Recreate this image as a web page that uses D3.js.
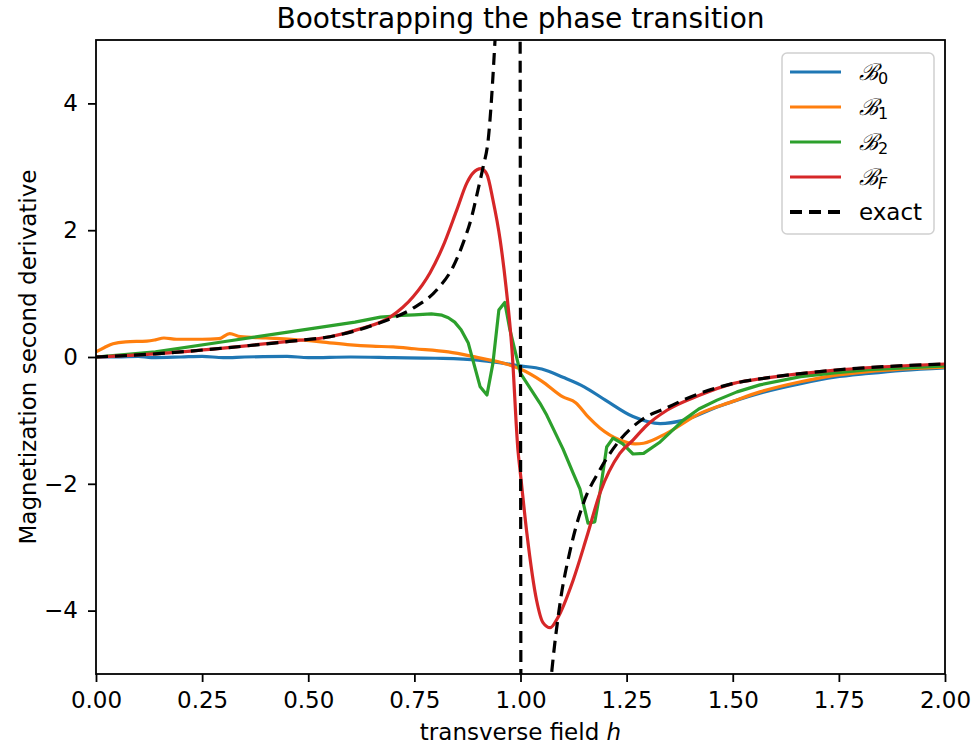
<!DOCTYPE html>
<html>
<head>
<meta charset="utf-8">
<script src="https://cdn.jsdelivr.net/npm/d3@7"></script>
<style>
  body { margin: 0; background: #fff; }
  text { font-family: "DejaVu Sans", sans-serif; fill: #000; }
  .line { fill: none; stroke-width: 3.2; stroke-linejoin: round; }
</style>
</head>
<body>
<script>
// values, [h, value]
const b0 = [[0,0],[0.05,0.0],[0.1,0.01],[0.13,-0.01],[0.2,0.0],[0.25,0.01],[0.3,-0.01],[0.35,0.0],[0.45,0.01],
  [0.5,-0.01],[0.6,0.0],[0.7,-0.01],[0.8,-0.02],[0.9,-0.05],[0.95,-0.09],[1.0,-0.14],[1.05,-0.19],[1.1,-0.32],
  [1.15,-0.47],[1.2,-0.68],[1.265,-0.94],[1.329,-1.05],[1.383,-1.0],[1.463,-0.79],[1.564,-0.57],[1.66,-0.42],
  [1.74,-0.32],[1.82,-0.26],[1.9,-0.21],[2.0,-0.17]];
const b1 = [[0,0.08],[0.02,0.15],[0.04,0.21],[0.07,0.24],[0.12,0.25],[0.14,0.27],[0.16,0.3],[0.19,0.28],[0.25,0.28],
  [0.29,0.29],[0.315,0.37],[0.34,0.32],[0.4,0.3],[0.46,0.28],[0.53,0.24],[0.6,0.19],[0.65,0.17],[0.7,0.16],[0.75,0.13],
  [0.83,0.08],[0.9,-0.01],[0.95,-0.08],[1.0,-0.19],[1.05,-0.38],[1.1,-0.63],[1.13,-0.72],[1.16,-0.95],[1.187,-1.12],
  [1.234,-1.31],[1.27,-1.37],[1.29,-1.36],[1.345,-1.2],[1.423,-0.89],[1.5,-0.7],[1.564,-0.55],[1.66,-0.39],
  [1.74,-0.29],[1.82,-0.23],[2.0,-0.16]];
const b2 = [[0,0],[0.14,0.08],[0.3,0.24],[0.46,0.4],[0.61,0.55],[0.67,0.63],[0.72,0.655],[0.75,0.665],[0.79,0.68],
  [0.815,0.66],[0.83,0.62],[0.845,0.55],[0.86,0.43],[0.877,0.22],[0.905,-0.47],[0.921,-0.6],[0.935,-0.1],[0.949,0.74],
  [0.963,0.86],[0.975,0.43],[1.0,-0.26],[1.046,-0.73],[1.062,-0.92],[1.1,-1.45],[1.124,-1.83],[1.14,-2.08],
  [1.159,-2.62],[1.175,-2.6],[1.187,-2.15],[1.203,-1.42],[1.218,-1.28],[1.241,-1.37],[1.265,-1.53],[1.29,-1.52],
  [1.329,-1.34],[1.383,-1.0],[1.42,-0.82],[1.463,-0.68],[1.51,-0.55],[1.564,-0.44],[1.66,-0.31],[1.74,-0.25],
  [1.82,-0.2],[2.0,-0.14]];
const bF = [[0,0],[0.14,0.05],[0.3,0.14],[0.46,0.25],[0.551,0.32],[0.62,0.44],[0.693,0.63],[0.747,0.95],[0.787,1.33],
  [0.817,1.74],[0.85,2.32],[0.874,2.75],[0.888,2.9],[0.907,2.97],[0.921,2.88],[0.935,2.48],[0.952,1.85],[0.966,1.1],
  [0.98,0.11],[0.994,-1.47],[1.0,-1.85],[1.015,-2.78],[1.038,-3.84],[1.053,-4.19],[1.07,-4.27],[1.088,-4.11],
  [1.124,-3.52],[1.156,-2.84],[1.187,-2.15],[1.234,-1.52],[1.265,-1.31],[1.297,-1.08],[1.345,-0.84],[1.423,-0.6],
  [1.5,-0.42],[1.58,-0.33],[1.736,-0.21],[2.0,-0.11]];
const exact = [[0,0],[0.14,0.05],[0.3,0.14],[0.46,0.25],[0.551,0.32],[0.669,0.54],[0.747,0.77],[0.803,1.06],
  [0.841,1.42],[0.865,1.8],[0.885,2.21],[0.9,2.64],[0.912,3.0],[0.924,3.43],[0.94,5.0],[0.96,8],[0.99,40],
  [1.01,-40],[1.04,-8],[1.074,-4.94],[1.093,-3.89],[1.117,-3.05],[1.148,-2.31],[1.187,-1.78],[1.234,-1.31],
  [1.29,-0.97],[1.345,-0.8],[1.383,-0.68],[1.5,-0.42],[1.58,-0.33],[1.736,-0.21],[2.0,-0.11]];

const xTicks = [0, 0.25, 0.5, 0.75, 1.0, 1.25, 1.5, 1.75, 2.0];
const yTicks = [-4, -2, 0, 2, 4];
const legendSubs = ["0", "1", "2", "F"];

const W = 974, H = 747;
const margin = {top: 40, right: 29, bottom: 73, left: 96};
const width = W - margin.left - margin.right, height = H - margin.top - margin.bottom;

const svg = d3.select("body").append("svg").attr("width", W).attr("height", H);
const g = svg.append("g").attr("transform", "translate(" + margin.left + "," + margin.top + ")");

const xScale = d3.scaleLinear().domain([0, 2]).range([0, width]);
const yScale = d3.scaleLinear().domain([-5, 5]).range([height, 0]);

g.append("defs").append("clipPath").attr("id", "clip")
  .append("rect").attr("width", width).attr("height", height);

const charts = g.append("g").attr("clip-path", "url(#clip)");

function lineFor(data, color, curve, dash) {
  const line = d3.line()
    .x(d => xScale(d[0]))
    .y(d => yScale(d[1]))
    .curve(curve);
  const p = charts.append("path").datum(data).attr("class", "line")
    .attr("stroke", color).attr("d", line);
  if (dash) p.attr("stroke-dasharray", dash).attr("stroke-width", 4);
}
const series = [
  {data: b0, color: "#1f77b4", curve: d3.curveMonotoneX},
  {data: b1, color: "#ff7f0e", curve: d3.curveMonotoneX},
  {data: b2, color: "#2ca02c", curve: d3.curveLinear},
  {data: bF, color: "#d62728", curve: d3.curveMonotoneX}
];
series.forEach(s => lineFor(s.data, s.color, s.curve));
lineFor(exact, "#000", d3.curveMonotoneX, "12,7");

// axes
const fmt = d => (d < 0 ? "\u2212" : "") + Math.abs(d);
const xAxis = d3.axisBottom(xScale).tickValues(xTicks).tickFormat(d3.format(".2f")).tickSizeOuter(0).tickSize(8).tickPadding(10);
const yAxis = d3.axisLeft(yScale).tickValues(yTicks).tickFormat(fmt).tickSizeOuter(0).tickSize(8).tickPadding(10);
const gX = g.append("g").attr("transform", "translate(0," + height + ")").call(xAxis);
const gY = g.append("g").call(yAxis);
[gX, gY].forEach(a => {
  a.select(".domain").remove();
  a.selectAll("line").attr("stroke", "#000").attr("stroke-width", 1.8);
  a.selectAll("text").style("font-family", "DejaVu Sans").style("font-size", "23px").attr("fill", "#000");
});
g.append("rect").attr("width", width).attr("height", height)
  .attr("fill", "none").attr("stroke", "#000").attr("stroke-width", 1.8);

// labels
svg.append("text").attr("x", margin.left + width / 2).attr("y", 28).attr("text-anchor", "middle")
  .style("font-size", "28px").text("Bootstrapping the phase transition");
const xl = svg.append("text").attr("x", margin.left + width / 2).attr("y", 740).attr("text-anchor", "middle")
  .style("font-size", "23px");
xl.append("tspan").text("transverse field ");
xl.append("tspan").style("font-style", "italic").text("h");
svg.append("text").attr("transform", "translate(36," + (margin.top + height / 2) + ") rotate(-90)")
  .attr("text-anchor", "middle").style("font-size", "23px").text("Magnetization second derivative");

// legend
const legende = g.append("g").attr("transform", "translate(" + (width - 163) + ",13)");
legende.append("rect").attr("width", 152).attr("height", 181).attr("rx", 5)
  .attr("fill", "#fff").attr("fill-opacity", 0.8).attr("stroke", "#d0d0d0").attr("stroke-width", 1.5);
function drawLegende(y, color, dash, label) {
  legende.append("line").attr("x1", 8).attr("x2", 59).attr("y1", y).attr("y2", y)
    .attr("stroke", color).attr("stroke-width", dash ? 4 : 3.2).attr("stroke-dasharray", dash || null);
  return legende.append("text").attr("x", 77).attr("y", y + 8).style("font-size", "23px").text(label);
}
legendSubs.forEach((s, i) => {
  const t = drawLegende(19 + i * 35, series[i].color, null, "");
  t.append("tspan").style("font-family", "DejaVu Serif").style("font-style", "italic").text("\u212C");
  t.append("tspan").attr("dy", 4).style("font-size", "16px")
    .style("font-style", s === "F" ? "italic" : "normal").text(s);
});
drawLegende(19 + 4 * 35, "#000", "12,7", "exact");
</script>
</body>
</html>
